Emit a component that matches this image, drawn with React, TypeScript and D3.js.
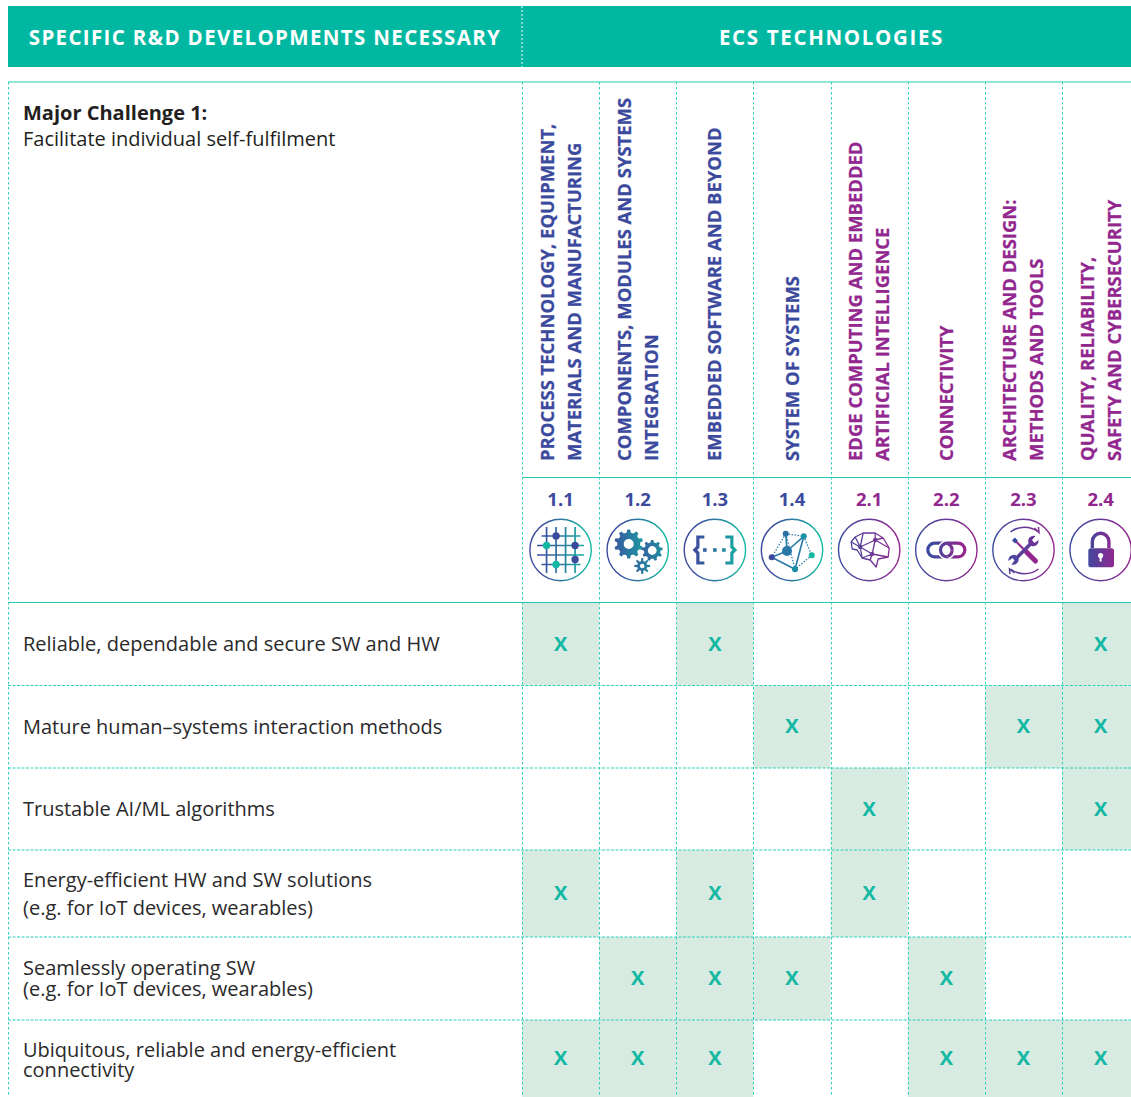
import React from 'react';
import * as d3 from 'd3';

const WIDTH = 1131;
const HEIGHT = 1097;
const FONT = '"Open Sans", sans-serif';

const headerLeft = 'SPECIFIC R&D DEVELOPMENTS NECESSARY';
const headerRight = 'ECS TECHNOLOGIES';
const challengeTitle = 'Major Challenge 1:';
const challengeText = 'Facilitate individual self-fulfilment';

const techCodes = ['1.1', '1.2', '1.3', '1.4', '2.1', '2.2', '2.3', '2.4'];
const techLabels = [
  ['PROCESS TECHNOLOGY, EQUIPMENT,', 'MATERIALS AND MANUFACTURING'],
  ['COMPONENTS, MODULES AND SYSTEMS', 'INTEGRATION'],
  ['EMBEDDED SOFTWARE AND BEYOND'],
  ['SYSTEM OF SYSTEMS'],
  ['EDGE COMPUTING AND EMBEDDED', 'ARTIFICIAL INTELLIGENCE'],
  ['CONNECTIVITY'],
  ['ARCHITECTURE AND DESIGN:', 'METHODS AND TOOLS'],
  ['QUALITY, RELIABILITY,', 'SAFETY AND CYBERSECURITY'],
];

const rowLabels = [
  ['Reliable, dependable and secure SW and HW'],
  ['Mature human\u2013systems interaction methods'],
  ['Trustable AI/ML algorithms'],
  ['Energy-efficient HW and SW solutions', '(e.g. for IoT devices, wearables)'],
  ['Seamlessly operating SW', '(e.g. for IoT devices, wearables)'],
  ['Ubiquitous, reliable and energy-efficient', 'connectivity'],
];
const rowMarks = [
  ['1.1', '1.3', '2.4'],
  ['1.4', '2.3', '2.4'],
  ['2.1', '2.4'],
  ['1.1', '1.3', '2.1'],
  ['1.2', '1.3', '1.4', '2.2'],
  ['1.1', '1.2', '1.3', '2.2', '2.3', '2.4'],
];

// layout
const rowEdges = [603, 685.5, 768, 850, 937, 1020, 1103];
const rowLineGap = [0, 0, 0, 28, 20.5, 20];

const BLUE = '#3c4a9e';
const TEAL = '#12b8a2';
const PURPLE = '#92278f';
const DASH = '#2fd0b8';

const xScale = d3.scaleBand<string>().domain(techCodes).range([522, 1139.2]);

const gear = (cx: number, cy: number, outer: number, inner: number, teeth: number) => {
  const pts: [number, number][] = [];
  const step = (Math.PI * 2) / teeth;
  for (let i = 0; i < teeth; i += 1) {
    const a = i * step;
    pts.push([a - step * 0.3, inner], [a - step * 0.16, outer], [a + step * 0.16, outer], [a + step * 0.3, inner]);
  }
  const line = d3.lineRadial().curve(d3.curveLinearClosed);
  return <path transform={`translate(${cx},${cy})`} d={line(pts) || ''} />;
};

const Icon: React.FC<{ code: string }> = ({ code }) => {
  const paint = `url(#grad${code[0]})`;
  const tight = 'url(#gradTight)';
  const dark = code[0] === '1' ? BLUE : PURPLE;
  if (code === '1.1') {
    const g = [-14, -4.5, 5, 14.5];
    const dots: [number, number, string][] = [
      [-4.5, -14, BLUE], [-14, -4.5, TEAL], [14.5, -4.5, BLUE], [14.5, 9.5, BLUE], [-4.5, 14.5, TEAL],
    ];
    return (
      <g>
        {g.map((v, i) => (
          <g key={v} stroke={paint} strokeWidth={1.7}>
            <line x1={v} x2={v + 0.01} y1={-23} y2={23} />
            <line y1={v} y2={v + 0.01} x1={i === 1 || i === 2 ? -23.5 : -19} x2={i === 1 || i === 2 ? 23.5 : 20} />
          </g>
        ))}
        {dots.map((d) => <circle key={`${d[0]}${d[1]}`} cx={d[0]} cy={d[1]} r={3.7} fill={d[2]} />)}
      </g>
    );
  }
  if (code === '1.2') {
    return (
      <g fill={paint}>
        {gear(-9, -6, 14.5, 11.5, 10)}
        <circle cx={-9} cy={-6} r={5} fill="#fff" />
        {gear(14.5, 0.5, 10.5, 8.3, 9)}
        <circle cx={14.5} cy={0.5} r={4.4} fill="#fff" />
        {gear(4.5, 16, 8, 5, 8)}
        <circle cx={4.5} cy={16} r={2.3} fill="#fff" />
      </g>
    );
  }
  if (code === '1.3') {
    return (
      <g>
        <path d="M-10.5,-13 H-17 V-3 L-20,0 L-17,3 V13 H-10.5" fill="none" stroke={paint} strokeWidth={3.2} />
        <path d="M10.5,-13 H17 V-3 L20,0 L17,3 V13 H10.5" fill="none" stroke={paint} strokeWidth={3.2} />
        {[-10, 0, 9].map((x) => <rect key={x} x={x - 1.8} y={-1.8} width={3.6} height={3.6} fill={paint} />)}
      </g>
    );
  }
  if (code === '1.4') {
    const n: Record<string, [number, number]> = {
      a: [-6.3, -16.3], b: [11.7, -13.7], c: [-5, 1], d: [-20.3, 7.3], e: [3, 19.3], f: [19.7, 5.3],
    };
    const solid = ['dc', 'cb', 'ac', 'de', 'be'];
    const dotted = ['ad', 'ab', 'ae', 'bf', 'fe'];
    const seg = (s: string) => ({ x1: n[s[0]][0], y1: n[s[0]][1], x2: n[s[1]][0], y2: n[s[1]][1] });
    return (
      <g>
        {solid.map((s) => <line key={s} {...seg(s)} stroke="#2a78a6" strokeWidth={1.6} />)}
        {dotted.map((s) => <line key={s} {...seg(s)} stroke="#2a78a6" strokeWidth={1.2} strokeDasharray="1.5 1.5" />)}
        <circle cx={n.a[0]} cy={n.a[1]} r={3} fill="#2a6fa6" />
        <circle cx={n.b[0]} cy={n.b[1]} r={3} fill="#1c93a4" />
        <circle cx={n.c[0]} cy={n.c[1]} r={5} fill="#2a78a6" />
        <circle cx={n.d[0]} cy={n.d[1]} r={3} fill={BLUE} />
        <circle cx={n.e[0]} cy={n.e[1]} r={3} fill="#1c8ea4" />
        <circle cx={n.f[0]} cy={n.f[1]} r={3} fill={TEAL} />
      </g>
    );
  }
  if (code === '2.1') {
    return (
      <g fill="none" stroke={paint} strokeWidth={1.3} strokeLinejoin="round">
        <path d="M-18,-8 L-14,-13 L-6,-17 L6,-17 L14,-12 L20,-2 L19,7 L9,9 L7,17 L1,10 L-7,8 L-12,0 L-17,-1 Z" />
        <path d="M-14,-13 L-9,-3 L-18,-8 M-6,-17 L-9,-3 L6,-10 L6,-17 M6,-10 L14,-12 M6,-10 L3,4 L-9,-3 M6,-10 L20,-2 M3,4 L19,7 M3,4 L1,10 M3,4 L-7,8 M-9,-3 L-7,8" />
        <circle cx={-9} cy={-3} r={1.5} fill={paint} />
        <circle cx={6} cy={-10} r={1.5} fill={paint} />
        <circle cx={3} cy={4} r={1.5} fill={paint} />
      </g>
    );
  }
  if (code === '2.2') {
    const leftEnd = 'M-1,-6.8 A6.8,6.8 0 0 1 -1,6.8';
    const rightEnd = 'M1,-6.8 A6.8,6.8 0 0 0 1,6.8';
    return (
      <g fill="none" strokeWidth={3.2}>
        <rect x={-18.5} y={-6.8} width={24.3} height={13.6} rx={6.8} stroke={tight} />
        <path d={rightEnd} stroke="#fff" strokeWidth={6.2} />
        <rect x={-5.8} y={-6.8} width={24.3} height={13.6} rx={6.8} stroke={tight} />
        <path d={leftEnd} stroke="#fff" strokeWidth={6.2} strokeDasharray="8 30" strokeDashoffset={-11} />
        <path d={leftEnd} stroke={tight} strokeDasharray="8 30" strokeDashoffset={-11} />
      </g>
    );
  }
  if (code === '2.3') {
    return (
      <g>
        <path d="M-13,-18 A23,23 0 0 1 15,-18" fill="none" stroke={paint} strokeWidth={1.5} />
        <path d="M11,-22 L15.5,-17.5 L15,-23" fill="none" stroke={paint} strokeWidth={1.5} />
        <path d="M15,19 A23,23 0 0 1 -13,19" fill="none" stroke={paint} strokeWidth={1.5} />
        <path d="M-9,23 L-14,19 L-13.5,24" fill="none" stroke={paint} strokeWidth={1.5} />
        <line x1={-10} y1={-11} x2={11} y2={10} stroke={dark} strokeWidth={2.2} />
        <line x1={3} y1={2} x2={12} y2={11} stroke={PURPLE} strokeWidth={5} strokeLinecap="round" />
        <line x1={-10} y1={-11} x2={-7} y2={-8} stroke={BLUE} strokeWidth={4} />
        <line x1={-8} y1={9} x2={8} y2={-7} stroke="#5b3d9c" strokeWidth={3.6} />
        <path d="M5,-7 A5.5,5.5 0 0 1 12,-14 L8.5,-10 L11,-7 L15,-10 A5.5,5.5 0 0 1 8,-4" fill="#6a3599" />
        <path d="M-5,8 A5.5,5.5 0 0 1 -12,14.5 L-9,10.5 L-11,8 L-15,11 A5.5,5.5 0 0 1 -8,5" fill="#4f449e" />
      </g>
    );
  }
  return (
    <g>
      <path d="M-8.3,-2 V-8.4 A8.3,8.3 0 0 1 8.3,-8.4 V-2" fill="none" stroke={tight} strokeWidth={3.4} />
      <rect x={-12.3} y={-1.7} width={25.7} height={19} rx={2.5} fill={tight} />
      <circle cx={0} cy={5.5} r={2.6} fill="#fff" />
      <rect x={-1} y={5.5} width={2} height={6} fill="#fff" />
    </g>
  );
};

const App: React.FC = () => {
  const colX = [...techCodes.map((c) => xScale(c) as number)];
  const step = xScale.bandwidth();
  const vDash = { stroke: DASH, strokeWidth: 1, strokeDasharray: '2.5 2.5' };
  const hDash = { stroke: DASH, strokeWidth: 1, strokeDasharray: '3 1.5' };
  return (
    <svg
      width={WIDTH}
      height={HEIGHT}
      viewBox={`0 0 ${WIDTH} ${HEIGHT}`}
      style={{ position: 'absolute', left: 0, top: 0, display: 'block', fontFamily: FONT }}
    >
      <defs>
        <linearGradient id="grad1" gradientUnits="userSpaceOnUse" x1={-20} x2={28} y1={0} y2={0}>
          <stop offset="0" stopColor={BLUE} />
          <stop offset="1" stopColor={TEAL} />
        </linearGradient>
        <linearGradient id="grad2" gradientUnits="userSpaceOnUse" x1={-28} x2={28} y1={0} y2={0}>
          <stop offset="0" stopColor={BLUE} />
          <stop offset="1" stopColor={PURPLE} />
        </linearGradient>
        <linearGradient id="gradTight" gradientUnits="userSpaceOnUse" x1={-14} x2={14} y1={0} y2={0}>
          <stop offset="0" stopColor={BLUE} />
          <stop offset="1" stopColor={PURPLE} />
        </linearGradient>
      </defs>

      <rect x={8} y={6} width={WIDTH - 8} height={61} fill="#00b8a1" />
      <line x1={522} x2={522} y1={6} y2={67} stroke="#fff" strokeWidth={1} strokeDasharray="2 2" />
      <text x={265} y={44.5} textAnchor="middle" fill="#fff" fontWeight={700} fontSize={20.5} letterSpacing={1.35}>{headerLeft}</text>
      <text x={831.5} y={44.5} textAnchor="middle" fill="#fff" fontWeight={700} fontSize={20.5} letterSpacing={1.66}>{headerRight}</text>

      {/* marked cells */}
      {rowMarks.map((marks, r) => marks.map((c) => (
        <rect
          key={`${r}-${c}`}
          x={xScale(c)}
          y={rowEdges[r]}
          width={step}
          height={rowEdges[r + 1] - rowEdges[r]}
          fill="#d7ebe2"
        />
      )))}

      {/* grid */}
      <line x1={8} x2={WIDTH} y1={82} y2={82} stroke="#6fdccb" strokeWidth={1.5} />
      <line x1={522} x2={WIDTH} y1={477.5} y2={477.5} stroke="#22c7b0" strokeWidth={1} />
      <line x1={8} x2={WIDTH} y1={602.5} y2={602.5} stroke="#22c7b0" strokeWidth={1} />
      <line x1={8.5} x2={8.5} y1={82} y2={HEIGHT} {...vDash} />
      {colX.map((x) => <line key={x} x1={Math.round(x) + 0.5} x2={Math.round(x) + 0.5} y1={82} y2={HEIGHT} {...vDash} />)}
      {rowEdges.slice(1, -1).map((y) => <line key={y} x1={8} x2={WIDTH} y1={y} y2={y} {...hDash} />)}

      <text x={23} y={120} fontSize={20} fontWeight={700} fill="#231f20">{challengeTitle}</text>
      <text x={23} y={146} fontSize={20} fill="#231f20">{challengeText}</text>

      {/* column heads */}
      {techCodes.map((code, i) => {
        const cx = (xScale(code) as number) + step / 2;
        const color = code[0] === '1' ? BLUE : PURPLE;
        const lines = techLabels[i];
        return (
          <g key={code}>
            {lines.map((l, j) => {
              const bx = cx + 6.5 + (j - (lines.length - 1) / 2) * 27;
              return (
                <text
                  key={l}
                  transform={`translate(${bx},461) rotate(-90)`}
                  fontSize={18.45}
                  fontWeight={700}
                  fill={color}
                  stroke={color}
                  strokeWidth={0.25}
                >
                  {l}
                </text>
              );
            })}
            <text x={cx} y={506} textAnchor="middle" fontSize={18.5} fontWeight={700} fill={color}>{code}</text>
            <g transform={`translate(${cx},550)`}>
              <circle r={30.7} fill="#fff" stroke={`url(#grad${code[0]})`} strokeWidth={1.4} />
              <Icon code={code} />
            </g>
          </g>
        );
      })}

      {/* rows */}
      {rowLabels.map((lines, r) => {
        const cy = (rowEdges[r] + Math.min(rowEdges[r + 1], 1097)) / 2;
        const first = cy + (r === 5 ? 8 : 7) - (rowLineGap[r] * (lines.length - 1)) / 2;
        return (
          <g key={lines[0]}>
            {lines.map((l, j) => (
              <text key={l} x={23} y={first + j * rowLineGap[r]} fontSize={20} fill="#2b2a2b">{l}</text>
            ))}
            {rowMarks[r].map((c) => (
              <text
                key={c}
                x={(xScale(c) as number) + step / 2}
                y={cy + 6.6}
                textAnchor="middle"
                fontSize={20}
                fontWeight={700}
                fill={TEAL}
              >
                X
              </text>
            ))}
          </g>
        );
      })}
    </svg>
  );
};

export default App;
